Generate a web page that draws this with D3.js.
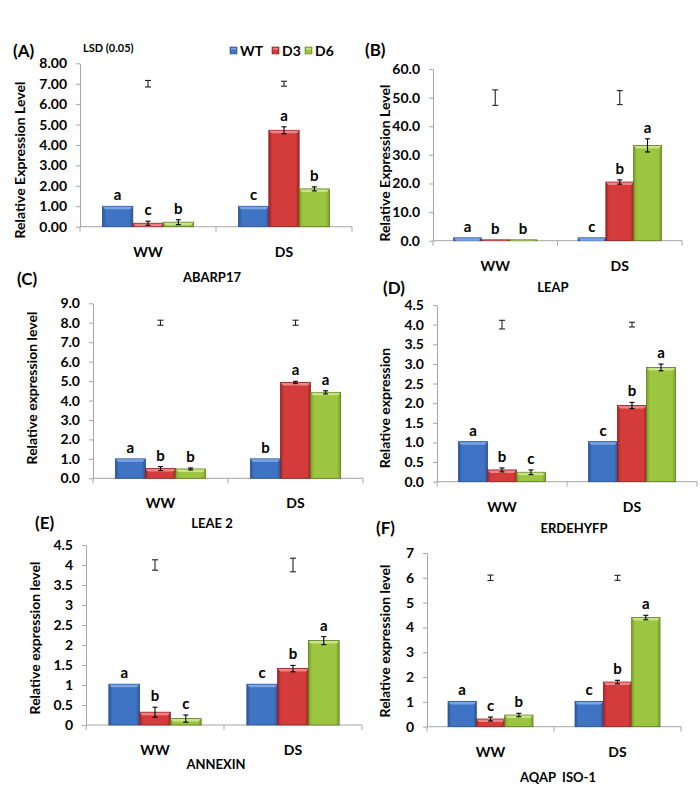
<!DOCTYPE html>
<html><head><meta charset="utf-8">
<script src="https://cdn.jsdelivr.net/npm/d3@7"></script>
<style>
html,body{margin:0;padding:0;background:#fff;}
svg text{font-family:Lato,"Open Sans",sans-serif;font-weight:700;fill:#000;}
</style></head>
<body><svg id="chart" width="700" height="793"></svg>
<script>
// ---------- DATA ----------
const categories = ["WW", "DS"];
const series = ["WT", "D3", "D6"];

const genesA = "ABARP17";
const valuesA = [[1.00, 0.17, 0.22], [1.00, 4.72, 1.85]];
const errorsA = [[0, 0.10, 0.12], [0, 0.17, 0.10]];
const lettersA = [["a", "c", "b"], ["c", "a", "b"]];
const lsdA = [7.0, 7.0];
const lsdErrA = [0.16, 0.12];
const ticksA = [0, 1, 2, 3, 4, 5, 6, 7, 8];

const genesB = "LEAP";
const valuesB = [[1.0, 0.3, 0.3], [1.0, 20.5, 33.3]];
const errorsB = [[0, 0, 0], [0, 0.75, 2.3]];
const lettersB = [["a", "b", "b"], ["c", "b", "a"]];
const lsdB = [50, 50];
const lsdErrB = [2.7, 2.45];
const ticksB = [0, 10, 20, 30, 40, 50, 60];

const genesC = "LEAE 2";
const valuesC = [[1.0, 0.50, 0.48], [1.0, 4.93, 4.42]];
const errorsC = [[0, 0.10, 0.05], [0, 0.06, 0.08]];
const lettersC = [["a", "b", "b"], ["b", "a", "a"]];
const lsdC = [8.0, 8.0];
const lsdErrC = [0.13, 0.13];
const ticksC = [0, 1, 2, 3, 4, 5, 6, 7, 8, 9];

const genesD = "ERDEHYFP";
const valuesD = [[1.02, 0.30, 0.24], [1.02, 1.94, 2.91]];
const errorsD = [[0, 0.05, 0.06], [0, 0.08, 0.085]];
const lettersD = [["a", "b", "c"], ["c", "b", "a"]];
const lsdD = [4.0, 4.0];
const lsdErrD = [0.11, 0.06];
const ticksD = [0, 0.5, 1, 1.5, 2, 2.5, 3, 3.5, 4, 4.5];

const genesE = "ANNEXIN";
const valuesE = [[1.02, 0.32, 0.16], [1.02, 1.41, 2.11]];
const errorsE = [[0, 0.125, 0.09], [0, 0.08, 0.1]];
const lettersE = [["a", "b", "c"], ["c", "b", "a"]];
const lsdE = [4.0, 4.0];
const lsdErrE = [0.13, 0.17];
const ticksE = [0, 0.5, 1, 1.5, 2, 2.5, 3, 3.5, 4, 4.5];

const genesF = "AQAP  ISO-1";
const valuesF = [[1.02, 0.31, 0.47], [1.02, 1.80, 4.40]];
const errorsF = [[0, 0.08, 0.07], [0, 0.07, 0.09]];
const lettersF = [["a", "c", "b"], ["c", "b", "a"]];
const lsdF = [6, 6];
const lsdErrF = [0.11, 0.1];
const ticksF = [0, 1, 2, 3, 4, 5, 6, 7];

// ---------- STYLE ----------
const colors = {
  WT: {base: "#3f74c4", light: "#7aa6e6", dark: "#2b5596", edge: "#2a5290"},
  D3: {base: "#d43c3c", light: "#ee8585", dark: "#a32626", edge: "#8a2020"},
  D6: {base: "#9cc540", light: "#c9e486", dark: "#78a02a", edge: "#5c7a1e"}
};

const svg = d3.select("#chart");
const defs = svg.append("defs");
series.forEach(s => {
  const c = colors[s];
  const g = defs.append("linearGradient").attr("id", "grad" + s)
    .attr("x1", "0").attr("x2", "1").attr("y1", "0").attr("y2", "0");
  g.append("stop").attr("offset", "0%").attr("stop-color", c.dark);
  g.append("stop").attr("offset", "12%").attr("stop-color", c.base);
  g.append("stop").attr("offset", "50%").attr("stop-color", c.base);
  g.append("stop").attr("offset", "88%").attr("stop-color", c.base);
  g.append("stop").attr("offset", "100%").attr("stop-color", c.dark);
});

// ---------- LAYOUT ----------
const panels = [
  {id: "(A)", gene: genesA, values: valuesA, errors: errorsA, letters: lettersA, lsd: lsdA, lsdErr: lsdErrA, ticks: ticksA,
   fmt: d3.format(".2f"), x0: 80, x1: 352, yTop: 63.3, yBot: 226.7, ytitle: "Relative Expression Level",
   yt: [20, 160], lab: [13, 57], geneXY: [212, 282]},
  {id: "(B)", gene: genesB, values: valuesB, errors: errorsB, letters: lettersB, lsd: lsdB, lsdErr: lsdErrB, ticks: ticksB,
   fmt: d3.format(".1f"), x0: 433, x1: 682, yTop: 69, yBot: 240.7, ytitle: "Relative Expression Level",
   yt: [385, 163], lab: [365, 56], geneXY: [553, 292]},
  {id: "(C)", gene: genesC, values: valuesC, errors: errorsC, letters: lettersC, lsd: lsdC, lsdErr: lsdErrC, ticks: ticksC,
   fmt: d3.format(".1f"), x0: 93, x1: 363, yTop: 303.3, yBot: 478.3, ytitle: "Relative  expression level",
   yt: [32, 388], lab: [17, 285], geneXY: [212, 528]},
  {id: "(D)", gene: genesD, values: valuesD, errors: errorsD, letters: lettersD, lsd: lsdD, lsdErr: lsdErrD, ticks: ticksD,
   fmt: d3.format(".1f"), x0: 437, x1: 697, yTop: 305, yBot: 481.7, ytitle: "Relative expression",
   yt: [385, 408], lab: [383, 294], geneXY: [574, 533]},
  {id: "(E)", gene: genesE, values: valuesE, errors: errorsE, letters: lettersE, lsd: lsdE, lsdErr: lsdErrE, ticks: ticksE,
   fmt: d3.format("~g"), x0: 86, x1: 362, yTop: 545, yBot: 725, ytitle: "Relative expression level",
   yt: [35, 638], lab: [35, 529], geneXY: [216, 769]},
  {id: "(F)", gene: genesF, values: valuesF, errors: errorsF, letters: lettersF, lsd: lsdF, lsdErr: lsdErrF, ticks: ticksF,
   fmt: d3.format("d"), x0: 427, x1: 681, yTop: 553, yBot: 726.7, ytitle: "Relative expression level",
   yt: [385, 641], lab: [376, 534], geneXY: [558, 782]}
];

const axisColor = "#a6a6a6";

panels.forEach(p => {
  const g = svg.append("g");
  const yMax = p.ticks[p.ticks.length - 1];
  const y = d3.scaleLinear().domain([0, yMax]).range([p.yBot, p.yTop]);
  const x = d3.scaleBand().domain(categories).range([p.x0, p.x1]).padding(0);
  const bw = x.bandwidth() * 0.223;
  const xs = d3.scaleBand().domain(series).range([-1.5 * bw, 1.5 * bw]).padding(0);

  // y axis
  const ya = g.append("g").attr("transform", `translate(${p.x0},0)`)
    .call(d3.axisLeft(y).tickValues(p.ticks).tickFormat(p.fmt).tickSize(4).tickSizeOuter(0).tickPadding(9));
  ya.select(".domain").attr("stroke", axisColor);
  ya.selectAll(".tick line").attr("stroke", axisColor);
  ya.selectAll(".tick text").style("font-size", "14px").style("font-family", "Lato, sans-serif").style("font-weight", 700).attr("fill", "#000");

  // x axis line and boundary ticks
  g.append("line").attr("x1", p.x0).attr("x2", p.x1).attr("y1", p.yBot).attr("y2", p.yBot)
    .attr("stroke", axisColor).attr("stroke-width", 1);
  const bounds = [x.range()[0]].concat(categories.map(c => x(c) + x.bandwidth()));
  g.selectAll(".xt").data(bounds).enter().append("line")
    .attr("x1", d => d).attr("x2", d => d).attr("y1", p.yBot).attr("y2", p.yBot + 5)
    .attr("stroke", axisColor);

  // category labels
  g.selectAll(".cl").data(categories).enter().append("text")
    .attr("x", d => x(d) + x.bandwidth() / 2).attr("y", p.yBot + 30)
    .attr("text-anchor", "middle").style("font-size", "14px").text(d => d);

  // bars
  categories.forEach((cat, ci) => {
    const cx = x(cat) + x.bandwidth() / 2;
    series.forEach((s, si) => {
      const v = p.values[ci][si];
      const e = p.errors[ci][si];
      const bx = cx + xs(s);
      const top = y(v);
      const h = p.yBot - top;
      g.append("rect").attr("x", bx).attr("y", top).attr("width", xs.bandwidth()).attr("height", h)
        .attr("fill", `url(#grad${s})`).attr("stroke", colors[s].edge).attr("stroke-width", 0.8);
      const th = Math.min(3, h);
      g.append("path")
        .attr("d", `M${bx + 0.5},${top + 0.5} L${bx + xs.bandwidth() - 0.5},${top + 0.5} L${bx + xs.bandwidth() - 2.5},${top + th} L${bx + 2.5},${top + th} Z`)
        .attr("fill", colors[s].light);
      if (e > 0) {
        const ex = bx + xs.bandwidth() / 2;
        const eg = g.append("g").attr("stroke", "#000").attr("stroke-width", 1.1);
        eg.append("line").attr("x1", ex).attr("x2", ex).attr("y1", y(v + e)).attr("y2", y(v - e));
        eg.append("line").attr("x1", ex - 2.5).attr("x2", ex + 2.5).attr("y1", y(v + e)).attr("y2", y(v + e));
        eg.append("line").attr("x1", ex - 2.5).attr("x2", ex + 2.5).attr("y1", y(v - e)).attr("y2", y(v - e));
      }
      g.append("text").attr("x", bx + xs.bandwidth() / 2).attr("y", y(v + e) - 6)
        .attr("text-anchor", "middle").style("font-size", "15px").text(p.letters[ci][si]);
    });
    // LSD marker
    const lv = p.lsd[ci], le = p.lsdErr[ci];
    const lg = g.append("g").attr("stroke", "#222").attr("stroke-width", 1.1);
    lg.append("line").attr("x1", cx).attr("x2", cx).attr("y1", y(lv + le)).attr("y2", y(lv - le));
    lg.append("line").attr("x1", cx - 3).attr("x2", cx + 3).attr("y1", y(lv + le)).attr("y2", y(lv + le));
    lg.append("line").attr("x1", cx - 3).attr("x2", cx + 3).attr("y1", y(lv - le)).attr("y2", y(lv - le));
  });

  // y title
  g.append("text").attr("transform", `translate(${p.yt[0] + 5},${p.yt[1]}) rotate(-90)`)
    .attr("text-anchor", "middle").style("font-size", "14px").text(p.ytitle);
  // panel label
  g.append("text").attr("x", p.lab[0]).attr("y", p.lab[1]).style("font-size", "17px").text(p.id);
  // gene name
  g.append("text").attr("x", p.geneXY[0]).attr("y", p.geneXY[1]).attr("text-anchor", "middle")
    .style("font-size", "13px").style("white-space", "pre").attr("xml:space", "preserve").text(p.gene);
});

// LSD label
svg.append("text").attr("x", 83).attr("y", 52).style("font-size", "11px").text("LSD (0.05)");

// legend
const leg = svg.append("g").attr("transform", "translate(230,47)");
const legX = [0, 42, 75];
series.forEach((s, i) => {
  const lg = leg.append("g").attr("transform", `translate(${legX[i]},0)`);
  lg.append("rect").attr("width", 7).attr("height", 7).attr("fill", `url(#grad${s})`).attr("stroke", colors[s].edge).attr("stroke-width", 0.6);
  lg.append("rect").attr("x", 1).attr("y", 1).attr("width", 5).attr("height", 1.5).attr("fill", colors[s].light);
  lg.append("text").attr("x", 10).attr("y", 8.5).style("font-size", "14px").text(s);
});
</script></body></html>
